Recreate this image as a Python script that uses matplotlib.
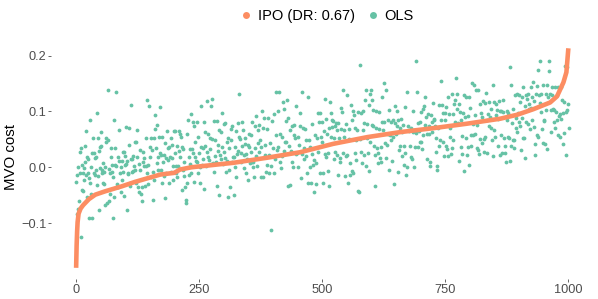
import matplotlib.pyplot as plt
import numpy as np
from matplotlib.lines import Line2D

plt.rcParams['font.family'] = ['Liberation Sans', 'DejaVu Sans']

# sorted IPO cost curve (rank, cost)
ipo_x = [1, 2, 3, 4, 6, 10, 15, 27, 40, 60, 94, 121, 172, 200, 212, 235, 320, 388,
         456, 523, 592, 659, 726, 794, 862, 896, 929, 963, 977, 990, 996, 1000]
ipo_y = [-0.180, -0.140, -0.115, -0.098, -0.083, -0.074, -0.068, -0.057, -0.049,
         -0.043, -0.034, -0.026, -0.013, -0.010, -0.004, 0.000, 0.008, 0.017, 0.027,
         0.042, 0.054, 0.063, 0.070, 0.078, 0.087, 0.094, 0.104, 0.116, 0.127, 0.152,
         0.170, 0.213]

# OLS cost (x 1/1000), read strip by strip along the rank axis
seg_edges = [1, 119, 245, 371, 496, 622, 748, 874, 1001]
ols_seg1 = [-26, -83, -14, -74, 1, -60, 28, -11, -125, 34, -40, 4, -10, -42, -2, -23, 38, 10,
            65, -14, -53, 19, -11, 15, -91, -20, 84, -29, 0, -47, -91, 25, 52, 25, -11, 16,
            -14, -5, 19, -32, 98, 53, -16, -77, 30, 37, -2, 64, 38, -5, -11, -28, 8, -8, -30,
            -68, 0, 45, 52, -64, 49, 139, -60, -3, -10, -47, 18, 34, 4, -8, -91, -18, -53, 85,
            4, 35, 134, 2, -30, -35, 19, -35, 12, 66, -10, 0, -44, 12, -22, 28, -8, -52, 28,
            20, 4, 72, 6, 12, -76, -12, -10, 40, 71, -34, -28, 112, 15, -8, 15, 20, -6, 3]
ols_seg2 = [45, -5, -28, 45, 66, 18, -35, -44, 5, 31, -5, -47, -60, -35, 28, 10, 16, 2, -34,
            52, 2, -11, 121, 4, -30, 109, 37, 19, -18, 53, 31, -8, -58, 52, -22, 69, 93, 35,
            8, 75, 19, -4, 54, 25, 108, 22, -5, -28, 54, 10, -15, 22, 43, -55, 16, -10, 65,
            35, 13, -28, 37, 18, 53, -8, 16, 40, 2, -23, 65, 25, 65, 2, -10, 38, -17, 2, 30,
            65, 59, 18, 54, 37, -41, -5, 32, 10, -16, -35, -64, -59, -29, 59, 84, 19, -14,
            32, 5, -11, 95, 32, 81, 25, -26, 74, 19, 45, 12]
ols_seg3 = [81, 10, -11, 54, 25, 0, -28, 37, 109, 4, 15, 34, -38, 81, 63, 38, 2, 28, 119, 60,
            18, 13, 53, 32, 110, 5, 123, 50, 7, -8, 83, 20, 49, 10, -34, 83, 40, 30, -50, 66,
            22, 14, 63, 97, 37, 5, 78, 28, 16, 80, -8, 12, 45, 52, -54, 34, -4, -35, 49, 69,
            10, 74, 19, -50, 18, 37, 1, -18, 65, 23, 30, 80, 54, 131, 51, 10, 25, 81, 38, 66,
            22, -2, 53, 41, -11, 23, 14, 40, -23, 60, 37, 7, 58, 28, 81, 10, 1, 10, -17, 74,
            34, 20, 91, 2, 66, 43]
ols_seg4 = [75, 27, 49, -18, 37, 100, -17, 70, 89, 40, 22, -8, 68, 4, 88, 22, -11, 44, -112,
            2, 83, 35, -11, 95, 15, 134, 57, 31, 100, 37, 134, 60, 10, -2, 54, 20, 117, 29,
            105, 45, 45, 83, 121, -33, 89, 38, -31, 66, 29, 10, 74, 1, 57, 75, 53, 24, 109,
            26, 0, 54, 40, 97, 74, -19, 24, 135, 71, 35, 14, 68, 49, 20, -10, 126, -29, 49,
            37, 1, -29, 78, 24, 4, -44, 13, 58, 7, -30, 52, 98, 28, 81, -11]
ols_seg5 = [98, 54, 81, 45, -11, -29, 65, 23, 123, 87, 19, 60, 25, -7, 71, -34, 117, 98, 54,
            84, 72, 82, 52, 14, 74, 28, 80, 66, 22, -14, 80, 52, 17, 10, 68, 107, 99, 25,
            138, 54, 66, -16, 77, 20, 22, 130, -28, 69, 51, -14, 8, 111, 84, -6, 101, -11,
            93, 71, 25, 49, 13, 66, 99, -42, -44, 50, 183, 28, 98, 8, 66, 101, 80, 22, 120,
            138, 2, 77, 52, 25, 111, -6, 132, 45, 139, 120, 75, 74, 103, 38, 22, -33, 101,
            71, 34, 26, 7, 99, 68, 16, 37, 10, 81]
ols_seg6 = [126, 66, 151, 81, 44, 16, 139, 40, 84, 59, -4, 102, 58, 49, 81, 12, 84, 54, -30,
            109, 80, 60, 101, 74, -8, 84, 31, 38, 71, 87, 63, 20, 75, 38, 4, 108, 25, -14, 1,
            134, 73, 65, 66, 38, 18, 71, 14, 63, 100, 1, 67, 37, 191, 62, 134, 80, 37, 65,
            45, 81, 45, 99, 32, 105, 58, 109, 75, 125, 90, 60, 14, 96, 60, 74, 10, 2, 93, 81,
            63, 115, 87, 84, 74, 52, 28, 3, -5, 71, 111, 38, 49, 84, 154, 111, 98, 45, 20]
ols_seg7 = [98, 84, 38, 108, 32, 20, 125, 95, 71, 54, 23, 34, 132, 96, 49, 114, 81, 120, 159,
            131, 105, 80, 12, 114, 99, 37, 84, 56, 23, 98, -7, 129, 90, 53, 125, 22, 91, 37,
            125, 4, 107, 57, 38, 151, 77, 57, 147, 93, 59, 138, 75, 35, 138, 31, 23, 50, 114,
            98, 44, 90, 119, 50, 28, 115, 54, 133, 84, 26, 96, 74, 117, 90, 105, 70, 49, 20,
            148, 66, 117, 54, 93, 114, 103, 87, 38, 119, 101, 22, 101, 57, 26, 120, 99, 53,
            25, 38, 10]
ols_seg8 = [101, 84, 54, 98, 53, 12, 180, 38, 148, 80, 49, 105, 48, 34, 130, 89, 71, 132, 63,
            98, 81, 129, 117, 74, 31, 125, 89, 52, 143, 52, 16, 109, 81, 129, 123, 78, 132,
            105, 114, 69, 144, 107, 126, 84, 153, 72, 119, 22, 41, 132, 57, 145, 174, 54,
            129, 115, 191, 131, 99, 68, 44, 148, 84, 83, 42, 132, 103, 32, 148, 126, 190,
            172, 132, 103, 63, 144, 129, 105, 81, 102, 71, 144, 99, 84, 129, 57, 144, 91, 54,
            96, 87, 143, 120, 41, 98, 62, 117, 181, 99, 22, 103, 180, 113, 71]

y_ticks = [-0.1, 0.0, 0.1, 0.2]
y_labels = ['\u22120.1', '0.0', '0.1', '0.2']
x_ticks = [0, 250, 500, 750, 1000]

segs = [ols_seg1, ols_seg2, ols_seg3, ols_seg4, ols_seg5, ols_seg6, ols_seg7, ols_seg8]
ols_x, ols_y = [], []
for i, seg in enumerate(segs):
    lo, hi = seg_edges[i], seg_edges[i + 1]
    step = (hi - lo) / len(seg)
    ols_x.extend(lo + step * (np.arange(len(seg)) + 0.5))
    ols_y.extend(np.array(seg) / 1000.0)

green = '#66C2A5'
orange = '#FC8D62'

fig = plt.figure(figsize=(5.98, 2.99), dpi=100)
ax = fig.add_axes([51 / 598, 1 - 279 / 299, 542 / 598, 243 / 299])
ax.scatter(ols_x, ols_y, s=7.5, color=green, linewidths=0, zorder=2)
ax.plot(ipo_x, ipo_y, color=orange, lw=3.3, solid_capstyle='butt', zorder=3)

ax.set_xlim(-50, 1050)
ax.set_ylim(-0.2, 0.235)
ax.set_yticks(y_ticks)
ax.set_yticklabels(y_labels)
ax.set_xticks(x_ticks)
for s in ax.spines.values():
    s.set_visible(False)
ax.tick_params(length=2, width=0.6, color='#4D4D4D', labelcolor='#4D4D4D',
               labelsize=9.2, pad=1.5)
ax.set_ylabel('MVO cost', fontsize=10.8, labelpad=2)

handles = [Line2D([], [], ls='none', marker='o', ms=5, color=orange, mec='none'),
           Line2D([], [], ls='none', marker='o', ms=5, color=green, mec='none')]
fig.legend(handles, ['IPO (DR: 0.67)', 'OLS'], loc='center', ncol=2,
           bbox_to_anchor=(327 / 598, 1 - 16 / 299), frameon=False, fontsize=10.5,
           handlelength=0.8, handletextpad=0.4, columnspacing=0.8)

fig.savefig('out.png', dpi=100)
